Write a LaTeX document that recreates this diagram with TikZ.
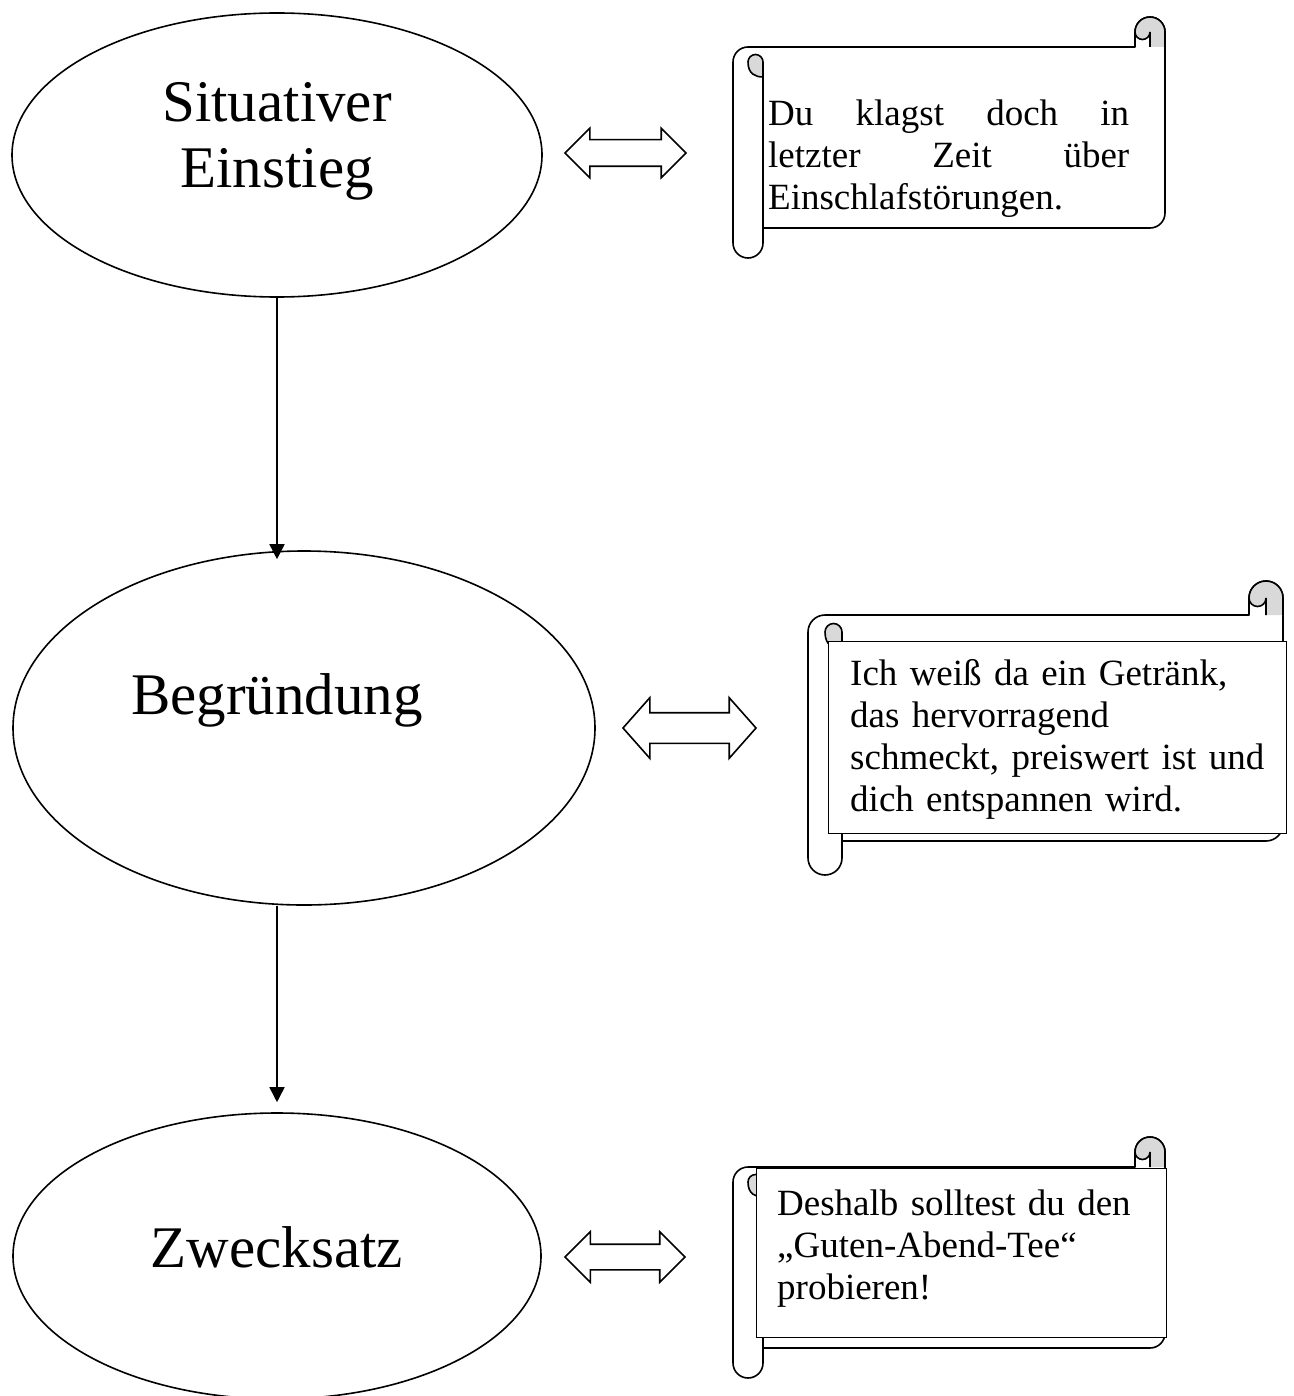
\documentclass[tikz,border=0pt]{standalone}
\usepackage{fontspec}
\setmainfont{Liberation Serif}
\usetikzlibrary{shapes.geometric,shapes.arrows,arrows.meta}

\tikzset{
  phase/.style={ellipse, draw, line width=1.6pt, inner sep=0pt},
  phasentext/.style={font=\fontsize{59}{66}\selectfont, inner sep=0pt, text width=420pt, align=center, anchor=base},
  pfeil/.style={-{Triangle[width=15pt,length=15pt]}, line width=1.6pt},
  doppelpfeil/.style={double arrow, draw, line width=1.6pt, inner xsep=0pt, double arrow tip angle=90},
  rolle/.style={draw, fill=white, line width=1.6pt, line join=round},
  wulst/.style={fill=black!15},
  textfeld/.style={draw, fill=white, line width=1pt, anchor=north west, inner sep=0pt},
  rollentext/.style={font=\fontsize{37}{42}\selectfont, inner sep=0pt, align=left, anchor=base west}
}

% Schriftrolle: links, oben, rechts, unten (px, y nach unten), Radius
\newcommand{\schriftrolle}[5]{%
  \pgfmathsetmacro{\sxa}{#1}%
  \pgfmathsetmacro{\sxb}{#1+#5}%
  \pgfmathsetmacro{\sxc}{#1+2*#5}%
  \pgfmathsetmacro{\sxd}{#3-2*#5}%
  \pgfmathsetmacro{\sxe}{#3-#5}%
  \pgfmathsetmacro{\sxf}{#3}%
  \pgfmathsetmacro{\sya}{-(#2+#5)}%
  \pgfmathsetmacro{\syb}{-(#2+2*#5)}%
  \pgfmathsetmacro{\syc}{-(#2+3*#5)}%
  \pgfmathsetmacro{\syg}{-(#2+4*#5)}%
  \pgfmathsetmacro{\syd}{-(#4-2*#5)}%
  \pgfmathsetmacro{\syf}{-(#4-3*#5)}%
  \pgfmathsetmacro{\sye}{-(#4-#5)}%
  \pgfmathsetmacro{\sr}{#5}%
  \pgfmathsetmacro{\sh}{#5/2}%
  % Umriss
  \path[rolle] (\sxa,\syc) arc[start angle=180,end angle=90,radius=\sr]
    -- (\sxd,\syb) -- (\sxd,\sya) arc[start angle=180,end angle=0,radius=\sr]
    -- (\sxf,\syf) arc[start angle=0,end angle=-90,radius=\sr]
    -- (\sxc,\syd) -- (\sxc,\sye) arc[start angle=0,end angle=-180,radius=\sr] -- cycle;
  % rechte Wulst
  \fill[wulst] (\sxe,\syb) -- (\sxe,\sya) arc[start angle=0,end angle=-180,radius=\sh]
    arc[start angle=180,end angle=0,radius=\sr] -- (\sxf,\syb) -- cycle;
  \draw[line width=1.6pt] (\sxd,\syb) -- (\sxd,\sya) arc[start angle=180,end angle=0,radius=\sr] -- (\sxf,\syb);
  \draw[line width=1.6pt] (\sxe,\syb) -- (\sxe,\sya) arc[start angle=0,end angle=-180,radius=\sh];
  % linke Wulst
  \filldraw[wulst, draw=black, line width=1.6pt] (\sxc,\syc) arc[start angle=0,end angle=180,radius=\sh]
    .. controls (\sxb,\syc-0.8*\sr) and (\sxb+\sh,\syg) .. (\sxc,\syg) -- cycle;
  \draw[line width=1.6pt] (\sxc,\syg) -- (\sxc,\syd);
}

\begin{document}
\begin{tikzpicture}[x=1pt,y=1pt]
\useasboundingbox (0,0) rectangle (1293,-1396);

% Phasen
\node[phase, minimum width=530pt, minimum height=284pt] (sit) at (277,-155) {};
\node[phasentext] (sit-text) at (277,-122) {Situativer\\Einstieg};

\node[phase, minimum width=582pt, minimum height=354pt] (begr) at (304,-728) {};
\node[phasentext] (begr-text) at (277,-714) {Begründung};

\node[phase, minimum width=528pt, minimum height=286pt] (zweck) at (277,-1256) {};
\node[phasentext] (zweck-text) at (277,-1267) {Zwecksatz};

% Pfeile zwischen den Phasen
\draw[pfeil, shorten >=-9pt] (sit.south) -- (sit.south |- begr.north);
\draw[pfeil, shorten >=10pt] (zweck.north |- begr.south) -- (zweck.north);

% Doppelpfeile
\node[doppelpfeil, minimum height=121pt, inner ysep=12.5pt, double arrow head extend=11.5pt] (dp1) at (625.5,-153) {};
\node[doppelpfeil, minimum height=133pt, inner ysep=14.5pt, double arrow head extend=15pt, double arrow tip angle=97] (dp2) at (689.5,-728) {};
\node[doppelpfeil, minimum height=120pt, inner ysep=12pt, double arrow head extend=12.5pt] (dp3) at (625,-1257) {};

% Schriftrolle 1
\schriftrolle{733}{17}{1165}{258}{15}
\node[rollentext, text width=361pt] (rolle1) at (768,-126)
  {Du\hfill klagst\hfill doch\hfill in\\ letzter\hfill Zeit\hfill über\\ Einschlafstörungen.};

% Schriftrolle 2
\schriftrolle{808}{581}{1283}{875}{17}
\node[textfeld, minimum width=458pt, minimum height=192pt] (feld2) at (828,-641) {};
\node[rollentext, text width=420pt] (rolle2) at (850,-685)
  {Ich weiß da ein Getränk,\\ das hervorragend\\ schmeckt, preiswert ist und\\ dich entspannen wird.};

% Schriftrolle 3
\schriftrolle{733}{1137}{1165}{1378}{15}
\node[textfeld, minimum width=410pt, minimum height=169pt] (feld3) at (756,-1168) {};
\node[rollentext, text width=380pt] (rolle3) at (777,-1215)
  {Deshalb solltest du den\\ „Guten-Abend-Tee“\\ probieren!};

\end{tikzpicture}
\end{document}
